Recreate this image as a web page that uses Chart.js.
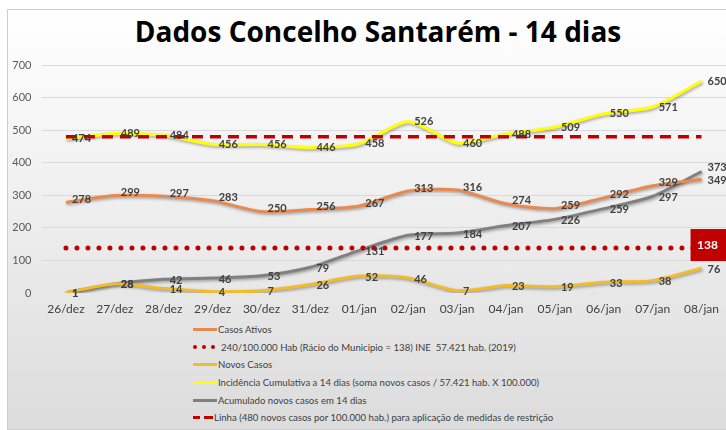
<!DOCTYPE html>
<html>
<head>
<meta charset="utf-8">
<script src="https://cdn.jsdelivr.net/npm/chart.js@4.4.0/dist/chart.umd.min.js"></script>
<style>
  body { margin: 0; width: 726px; height: 430px; overflow: hidden; background: #fff; font-family: Lato, sans-serif; }
  #frame { position: absolute; left: 7px; top: 9px; width: 730px; height: 419px; border: 1px solid #cfcfcf;
           background: linear-gradient(#ffffff, #efefef 45%, #dcdcdc); }
  #title { position: absolute; left: 0; top: 12px; width: 756px; text-align: center; font: bold 28px "Open Sans"; color: #000; line-height: 38px; }
  canvas { position: absolute; left: 0; top: 0; }
  #legend { position: absolute; left: 193px; top: 321px; font: 9.6px Lato; color: #404040; }
  .row { height: 17.6px; display: flex; align-items: center; white-space: nowrap; }
  .sym { display: inline-block; width: 24px; height: 3px; margin-right: 1px; }
  .dot { display: inline-block; width: 4px; height: 4px; border-radius: 50%; background: #c00000; margin-right: 5px; }
  .dash { display: inline-block; height: 3px; background: #c00000; margin-right: 4px; }
</style>
</head>
<body>
<div id="frame"></div>
<div id="title">Dados Concelho Santarém - 14 dias</div>
<canvas id="myChart" width="728" height="320"></canvas>
<div id="legend">
  <div class="row"><span class="sym" style="background:#e8894f"></span>Casos Ativos</div>
  <div class="row"><span class="dot"></span><span class="dot"></span><span class="dot" style="margin-right:6px"></span>240/100.000 Hab (Rácio do Municipio = 138) INE&nbsp; 57.421 hab. (2019)</div>
  <div class="row"><span class="sym" style="background:#f2bb2a"></span>Novos Casos</div>
  <div class="row"><span class="sym" style="background:#ffff00"></span>Incidência Cumulativa a 14 dias (soma novos casos / 57.421 hab. X 100.000)</div>
  <div class="row"><span class="sym" style="background:#808080"></span>Acumulado novos casos em 14 dias</div>
  <div class="row"><span class="dash" style="width:7px"></span><span class="dash" style="width:9px;margin-right:1px"></span>Linha (480 novos casos por 100.000 hab.) para aplicação de medidas de restrição</div>
</div>
<script>
var labels = ['26/dez', '27/dez', '28/dez', '29/dez', '30/dez', '31/dez', '01/jan',
              '02/jan', '03/jan', '04/jan', '05/jan', '06/jan', '07/jan', '08/jan'];

var casosAtivos = [278, 299, 297, 283, 250, 256, 267, 313, 316, 274, 259, 292, 329, 349];
var novosCasos = [1, 28, 14, 4, 7, 26, 52, 46, 7, 23, 19, 33, 38, 76];
var incidencia = [474, 489, 484, 456, 456, 446, 458, 526, 460, 488, 509, 550, 571, 650];
var acumulado = [1, 28, 42, 46, 53, 79, 131, 177, 184, 207, 226, 259, 297, 373];
var racio = [138, 138, 138, 138, 138, 138, 138, 138, 138, 138, 138, 138, 138, 138];
var linha480 = [480, 480, 480, 480, 480, 480, 480, 480, 480, 480, 480, 480, 480, 480];

var yTicks = [0, 100, 200, 300, 400, 500, 600, 700];

// shadow under the smoothed lines
var shadowPlugin = {
  id: 'shadow',
  beforeDatasetDraw: function (chart, args) {
    var ctx = chart.ctx;
    ctx.save();
    if (chart.data.datasets[args.index].shadow) {
      ctx.shadowColor = 'rgba(0,0,0,0.35)';
      ctx.shadowBlur = 3;
      ctx.shadowOffsetX = 1;
      ctx.shadowOffsetY = 1.5;
    }
  },
  afterDatasetDraw: function (chart) {
    chart.ctx.restore();
  }
};

// value labels to the right of each point, red box for the 138 ratio
var labelPlugin = {
  id: 'valueLabels',
  afterDatasetsDraw: function (chart) {
    var ctx = chart.ctx;
    ctx.save();
    chart.data.datasets.forEach(function (ds, i) {
      var meta = chart.getDatasetMeta(i);
      if (ds.box) {
        var p = meta.data[meta.data.length - 1];
        ctx.fillStyle = '#c00000';
        ctx.fillRect(p.x - 11, p.y - 19, 40, 32);
        ctx.fillStyle = '#ffffff';
        ctx.font = 'bold 12px Lato';
        ctx.textAlign = 'center';
        ctx.textBaseline = 'middle';
        ctx.fillText(ds.data[ds.data.length - 1], p.x + 6, p.y - 3);
        return;
      }
      if (ds.labelDy === undefined) return;
      ctx.fillStyle = '#404040';
      ctx.font = 'bold 11px Lato';
      ctx.textAlign = 'left';
      ctx.textBaseline = 'middle';
      meta.data.forEach(function (p, j) {
        var dy = ds.labelDy;
        if (j === meta.data.length - 1 && ds.lastDy !== undefined) dy = ds.lastDy;
        ctx.fillText(ds.data[j], p.x + 6, p.y + dy);
      });
    });
    ctx.restore();
  }
};

var ctx = document.getElementById('myChart').getContext('2d');
var chart = new Chart(ctx, {
  type: 'line',
  data: {
    labels: labels,
    datasets: [
      {
        label: 'Linha (480 novos casos por 100.000 hab.) para aplicação de medidas de restrição',
        data: linha480,
        borderColor: '#c00000',
        borderWidth: 3.5,
        borderDash: [11, 7],
        pointRadius: 0,
        order: 0
      },
      {
        label: '240/100.000 Hab (Rácio do Municipio = 138) INE  57.421 hab. (2019)',
        data: racio,
        borderColor: '#c00000',
        borderWidth: 5,
        borderDash: [0, 11],
        borderCapStyle: 'round',
        pointRadius: 0,
        box: true,
        order: 1
      },
      {
        label: 'Incidência Cumulativa a 14 dias (soma novos casos / 57.421 hab. X 100.000)',
        data: incidencia,
        borderColor: '#ffff00',
        borderWidth: 3,
        tension: 0.25,
        pointRadius: 0,
        shadow: true,
        labelDy: 0,
        order: 2
      },
      {
        label: 'Casos Ativos',
        data: casosAtivos,
        borderColor: '#e8894f',
        borderWidth: 3,
        tension: 0.25,
        pointRadius: 0,
        shadow: true,
        labelDy: -3,
        lastDy: 1,
        order: 3
      },
      {
        label: 'Novos Casos',
        data: novosCasos,
        borderColor: '#f2bb2a',
        borderWidth: 3,
        tension: 0.25,
        pointRadius: 0,
        shadow: true,
        labelDy: 1,
        order: 4
      },
      {
        label: 'Acumulado novos casos em 14 dias',
        data: acumulado,
        borderColor: '#808080',
        borderWidth: 3,
        tension: 0.25,
        pointRadius: 0,
        shadow: true,
        labelDy: 1,
        lastDy: -4,
        order: 5
      }
    ]
  },
  options: {
    responsive: false,
    animation: false,
    layout: { padding: { top: 65, left: 0, right: 0, bottom: 0 } },
    plugins: {
      legend: { display: false },
      title: { display: false },
      tooltip: { enabled: false }
    },
    scales: {
      x: {
        offset: true,
        grid: { display: false, drawTicks: false },
        border: { display: false },
        ticks: { color: '#404040', font: { family: 'Lato', size: 12 }, padding: 9, maxRotation: 0 },
        afterFit: function (scale) { scale.height = 27; }
      },
      y: {
        min: 0,
        max: 700,
        afterBuildTicks: function (scale) {
          scale.ticks = yTicks.map(function (v) { return { value: v }; });
        },
        grid: {
          drawTicks: false,
          color: function (c) { return c.tick && c.tick.value === 0 ? 'rgba(0,0,0,0)' : '#d9d9d9'; }
        },
        border: { display: false },
        ticks: { color: '#595959', font: { family: 'Lato', size: 11 }, padding: 10 },
        afterFit: function (scale) { scale.width = 41.5; }
      }
    }
  },
  plugins: [shadowPlugin, labelPlugin]
});
</script>
</body>
</html>
